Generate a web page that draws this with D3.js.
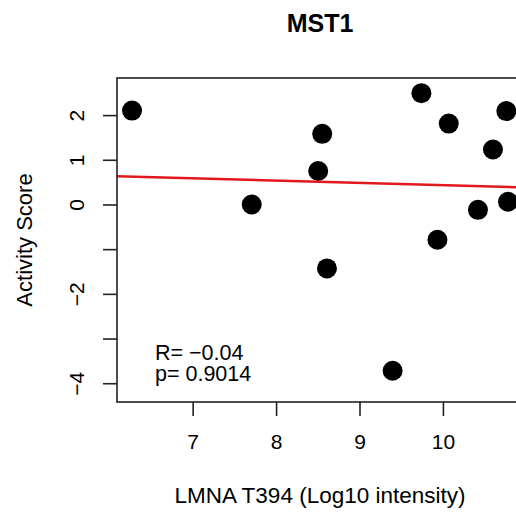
<!DOCTYPE html>
<html>
<head>
<meta charset="utf-8">
<script src="https://cdn.jsdelivr.net/npm/d3@7"></script>
<style>
  html, body { margin: 0; padding: 0; background: #fff; }
  svg { display: block; font-family: "Liberation Sans", Arial, sans-serif; }
</style>
</head>
<body>
<div id="chart"></div>
<script>
// Values
const xValues = [6.273, 8.553, 8.505, 7.708, 8.61, 9.742, 10.07, 10.76, 10.60, 10.42, 10.78, 9.934, 9.397];
const yValues = [2.10, 1.58, 0.75, 0.0, -1.43, 2.49, 1.81, 2.09, 1.23, -0.12, 0.06, -0.79, -3.72];

const xDomain = [6.093, 10.96];
const yDomain = [-4.42, 2.83];
const xTicks = [7, 8, 9, 10];
const yTicks = [-4, -3, -2, -1, 0, 1, 2];
const yTickLabels = ['\u22124', '', '\u22122', '', '0', '1', '2'];

const titleText = 'MST1';
const xLabel = 'LMNA T394 (Log10 intensity)';
const yLabel = 'Activity Score';
const statLines = ['R= \u22120.04', 'p= 0.9014'];

const width = 516;
const height = 517;
const plot = { left: 117, right: 523, top: 78, bottom: 402 };

const svg = d3.select('#chart')
  .append('svg')
  .attr('width', width)
  .attr('height', height);

svg.append('rect').attr('width', width).attr('height', height).attr('fill', '#fff');

const x = d3.scaleLinear().domain(xDomain).range([plot.left, plot.right]);
const y = d3.scaleLinear().domain(yDomain).range([plot.bottom, plot.top]);

svg.append('defs').append('clipPath').attr('id', 'plot-clip')
  .append('rect')
  .attr('x', plot.left).attr('y', plot.top)
  .attr('width', plot.right - plot.left).attr('height', plot.bottom - plot.top);

// simple least squares fit
const mx = d3.mean(xValues);
const my = d3.mean(yValues);
let sxy = 0, sxx = 0;
xValues.forEach((v, i) => {
  sxy += (v - mx) * (yValues[i] - my);
  sxx += (v - mx) * (v - mx);
});
const slope = sxy / sxx;
const intercept = my - slope * mx;

// points
svg.append('g')
  .selectAll('circle')
  .data(xValues.map((v, i) => [v, yValues[i]]))
  .enter()
  .append('circle')
  .attr('cx', d => x(d[0]))
  .attr('cy', d => y(d[1]))
  .attr('r', 10)
  .attr('fill', '#000');

// regression line
svg.append('line')
  .attr('clip-path', 'url(#plot-clip)')
  .attr('x1', x(xDomain[0])).attr('y1', y(intercept + slope * xDomain[0]))
  .attr('x2', x(xDomain[1])).attr('y2', y(intercept + slope * xDomain[1]))
  .attr('stroke', '#e2191c')
  .attr('stroke-width', 2.6);

// box
svg.append('rect')
  .attr('x', plot.left).attr('y', plot.top)
  .attr('width', plot.right - plot.left).attr('height', plot.bottom - plot.top)
  .attr('fill', 'none')
  .attr('stroke', '#222')
  .attr('stroke-width', 1.6);

// x axis
const xAxis = svg.append('g')
  .attr('transform', `translate(0,${plot.bottom})`)
  .call(d3.axisBottom(x).tickValues(xTicks).tickSize(14).tickPadding(18).tickFormat(d3.format('d')));
xAxis.select('.domain').remove();
xAxis.selectAll('line').attr('stroke', '#222').attr('stroke-width', 1.6);
xAxis.selectAll('text')
  .attr('fill', '#000')
  .style('font-size', '21px')
  .style('font-family', '"Liberation Sans", Arial, sans-serif');

// y axis
const yAxis = svg.append('g')
  .attr('transform', `translate(${plot.left},0)`)
  .call(d3.axisLeft(y).tickValues(yTicks).tickSize(14).tickFormat((d, i) => yTickLabels[i]));
yAxis.select('.domain').remove();
yAxis.selectAll('line').attr('stroke', '#222').attr('stroke-width', 1.6);
yAxis.selectAll('text')
  .attr('fill', '#000')
  .attr('x', null).attr('dy', null)
  .attr('transform', 'translate(-33,0) rotate(-90)')
  .attr('text-anchor', 'middle')
  .style('font-size', '21px')
  .style('font-family', '"Liberation Sans", Arial, sans-serif');

// title
svg.append('text')
  .attr('x', (plot.left + plot.right) / 2)
  .attr('y', 32)
  .attr('text-anchor', 'middle')
  .style('font-size', '25px')
  .style('font-weight', 'bold')
  .text(titleText);

// axis labels
svg.append('text')
  .attr('x', (plot.left + plot.right) / 2)
  .attr('y', 503)
  .attr('text-anchor', 'middle')
  .style('font-size', '22.5px')
  .text(xLabel);

svg.append('text')
  .attr('transform', `translate(32,${(plot.top + plot.bottom) / 2}) rotate(-90)`)
  .attr('text-anchor', 'middle')
  .style('font-size', '22px')
  .text(yLabel);

// stats text
svg.append('g')
  .selectAll('text')
  .data(statLines)
  .enter()
  .append('text')
  .attr('x', 155)
  .attr('y', (d, i) => 360 + i * 21)
  .style('font-size', '21.5px')
  .text(d => d);
</script>
</body>
</html>
